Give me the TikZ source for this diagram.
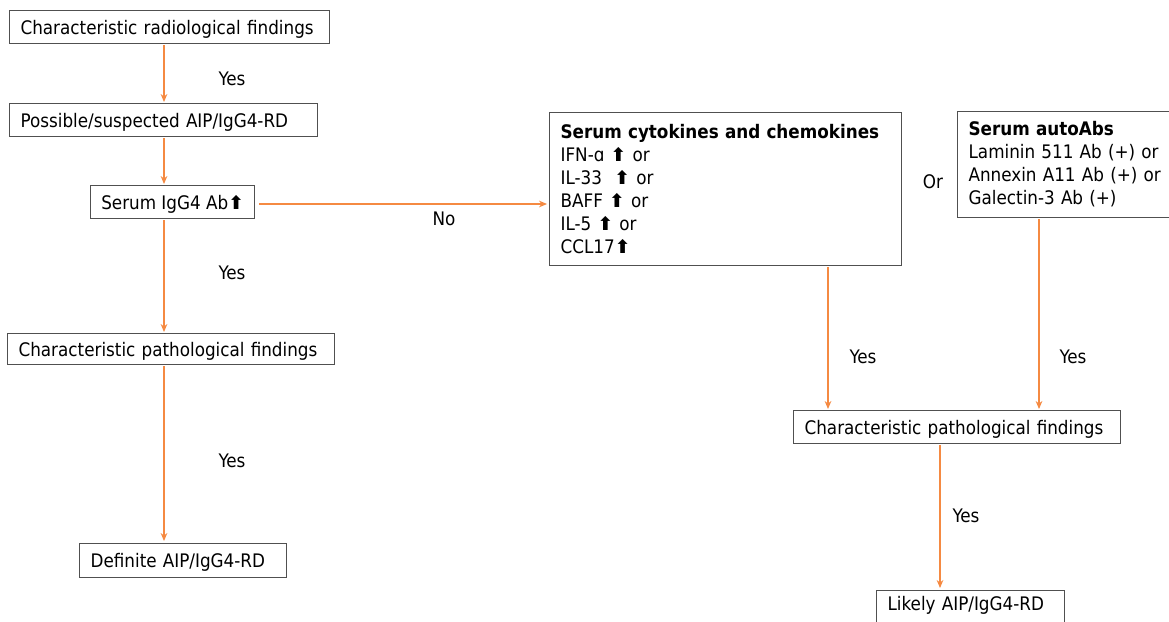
\documentclass[tikz,border=0pt]{standalone}
\usepackage{fontspec}
\setmainfont{DejaVu Sans Condensed}
\newfontfamily\symf{DejaVu Sans}
\usetikzlibrary{arrows.meta,calc}
\definecolor{arrc}{HTML}{F58A42}
\definecolor{boxc}{HTML}{505050}
\newcommand{\upa}{{\symf\bfseries ⬆}}
\begin{document}
\begin{tikzpicture}[x=0.75pt,y=-0.75pt,
  box/.style={draw=boxc,line width=0.9pt,anchor=north west,align=left,inner xsep=8pt,inner ysep=0pt,
    font=\fontsize{14pt}{17.25pt}\selectfont},
  single/.style={text depth=0pt},
  arr/.style={draw=arrc,line width=0.8pt,-{Stealth[length=6pt,width=5pt]}},
  lab/.style={font=\fontsize{14pt}{17.25pt}\selectfont,inner sep=0pt}]
\useasboundingbox (0,0) rectangle (1169,621);
% boxes
\node[box,single,minimum width=320*0.75pt,minimum height=33*0.75pt,text width={(320-22)*0.75pt}] (b1) at (9,10) {Characteristic radiological findings};
\node[box,single,minimum width=308*0.75pt,minimum height=33*0.75pt,text width={(308-22)*0.75pt}] (b2) at (9,103) {Possible/suspected AIP/IgG4-RD};
\node[box,single,align=center,inner xsep=0pt,minimum width=164*0.75pt,minimum height=33*0.75pt] (b3) at (90,185) {Serum IgG4 Ab\upa};
\node[box,single,minimum width=327*0.75pt,minimum height=31*0.75pt,text width={(327-22)*0.75pt}] (b4) at (7,333) {Characteristic pathological findings};
\node[box,single,minimum width=207*0.75pt,minimum height=34*0.75pt,text width={(207-22)*0.75pt}] (b5) at (79,543) {Definite AIP/IgG4-RD};
\node[box,minimum width=352*0.75pt,minimum height=153*0.75pt,text width={(352-22)*0.75pt}] (b6) at (549,112)
  {\textbf{Serum cytokines and chemokines}\\
   IFN-ɑ \upa{} or\\
   IL-33 \ \upa{} or\\
   BAFF \upa{} or\\
   IL-5 \upa{} or\\
   CCL17\upa};
\node[box,minimum width=230*0.75pt,minimum height=106*0.75pt,text width={(230-22)*0.75pt}] (b7) at (957,111)
  {\textbf{Serum autoAbs}\\
   Laminin 511 Ab (+) or\\
   Annexin A11 Ab (+) or\\
   Galectin-3 Ab (+)};
\node[box,single,minimum width=327*0.75pt,minimum height=33*0.75pt,text width={(327-22)*0.75pt}] (b8) at (793,410) {Characteristic pathological findings};
\node[box,minimum width=188*0.75pt,minimum height=40*0.75pt,text width={(188-22)*0.75pt},text depth=0pt] (b9) at (876,590) {\raisebox{0pt}[0pt][0pt]{\smash{Likely AIP/IgG4-RD}}};
% columns
\coordinate (c1) at (164,0);
\coordinate (c2) at (828,0);
\coordinate (c3) at (1039,0);
\coordinate (c4) at (940,0);
\coordinate (r1) at (0,204);
% connectors
\draw[arr] ($(b1.south -| c1)+(0,1)$) -- ($(b2.north -| c1)+(0,-1)$);
\draw[arr] ($(b2.south -| c1)+(0,1)$) -- ($(b3.north -| c1)+(0,-1)$);
\draw[arr] ($(b3.south -| c1)+(0,1)$) -- ($(b4.north -| c1)+(0,-1)$);
\draw[arr] ($(b4.south -| c1)+(0,1)$) -- ($(b5.north -| c1)+(0,-2)$);
\draw[arr] ($(b3.east |- r1)+(4,0)$) -- ($(b6.west |- r1)+(-2,0)$);
\draw[arr] ($(b6.south -| c2)+(0,1)$) -- ($(b8.north -| c2)+(0,-1)$);
\draw[arr] ($(b7.south -| c3)+(0,1)$) -- ($(b8.north -| c3)+(0,-1)$);
\draw[arr] ($(b8.south -| c4)+(0,1)$) -- ($(b9.north -| c4)+(0,-2)$);
% labels
\node[lab] (y1) at (232,79) {Yes};
\node[lab] (y2) at (232,273) {Yes};
\node[lab] (y3) at (232,461) {Yes};
\node[lab] (no) at (444,219) {No};
\node[lab] (or) at (933,182) {Or};
\node[lab] (y4) at (863,357) {Yes};
\node[lab] (y5) at (1073,357) {Yes};
\node[lab] (y6) at (966,516) {Yes};
\end{tikzpicture}
\end{document}
